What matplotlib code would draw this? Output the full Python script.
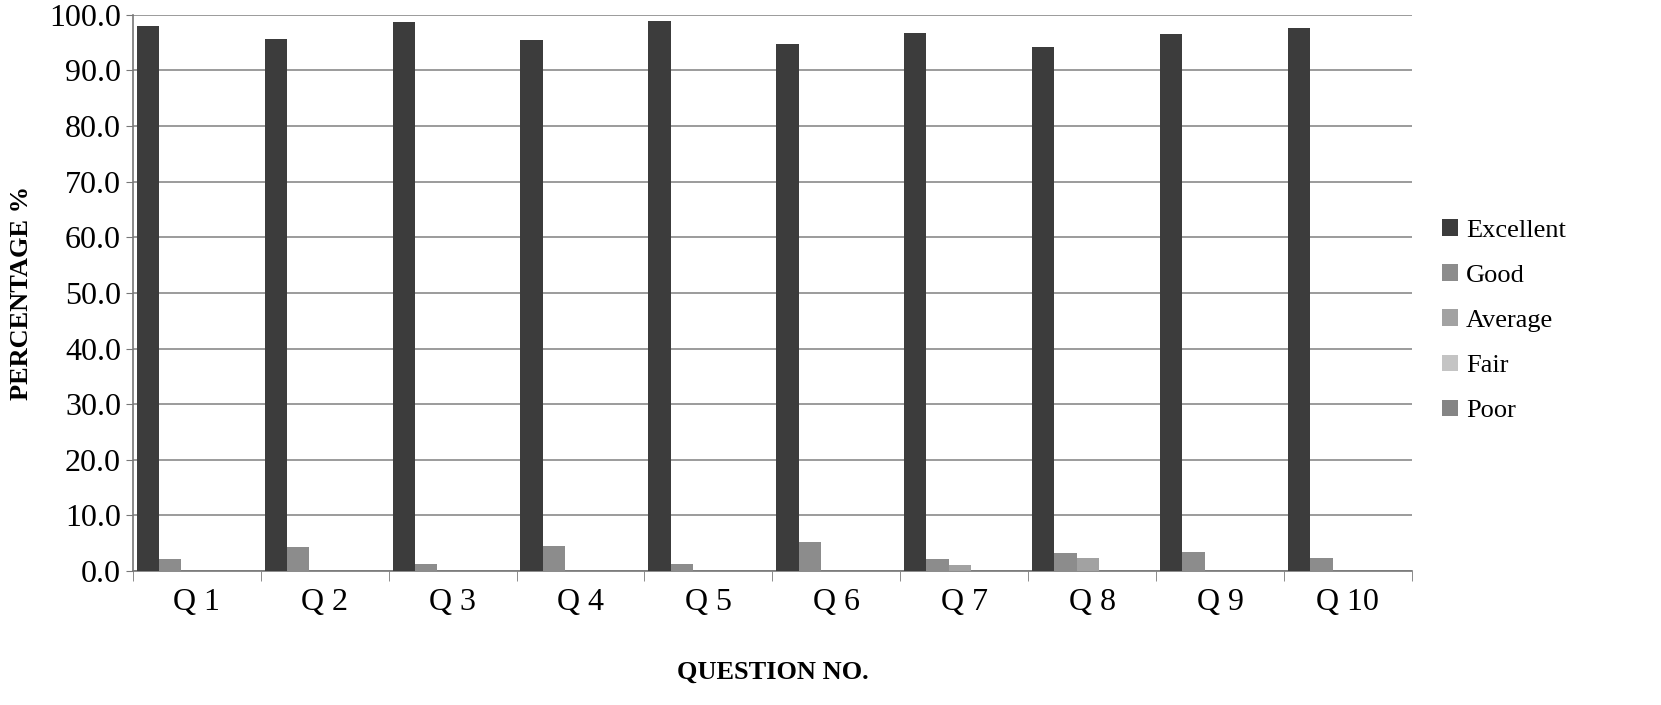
import numpy as np
import matplotlib
matplotlib.use('Agg')
import matplotlib.pyplot as plt

plt.rcParams['font.family'] = ['Liberation Serif', 'DejaVu Serif']

questions = ['Q 1', 'Q 2', 'Q 3', 'Q 4', 'Q 5', 'Q 6', 'Q 7', 'Q 8', 'Q 9', 'Q 10']
excellent = [97.9, 95.7, 98.7, 95.5, 98.8, 94.7, 96.8, 94.3, 96.6, 97.7]
good = [2.1, 4.3, 1.3, 4.5, 1.2, 5.3, 2.1, 3.3, 3.4, 2.3]
average = [0.0, 0.0, 0.0, 0.0, 0.0, 0.0, 1.1, 2.4, 0.0, 0.0]
fair = [0.0] * 10
poor = [0.0] * 10

series = [('Excellent', excellent, '#3c3c3c'),
          ('Good', good, '#8c8c8c'),
          ('Average', average, '#a2a2a2'),
          ('Fair', fair, '#c4c4c4'),
          ('Poor', poor, '#858585')]

fig = plt.figure(figsize=(16.61, 7.05), dpi=100)
ax = fig.add_axes([0.08, 0.19, 0.77, 0.789])

x = np.arange(len(questions))
w = 0.175
start = -0.5 + 0.03
for i, (name, vals, col) in enumerate(series):
    ax.bar(x + start + w * (i + 0.5), vals, width=w, color=col, label=name, zorder=3)

ax.set_xlim(-0.5, len(questions) - 0.5)
ax.set_ylim(0, 100)
ax.set_yticks(np.arange(0, 101, 10))
ax.set_yticklabels(['%.1f' % v for v in np.arange(0, 101, 10)], fontsize=23)
ax.set_xticks(x)
ax.set_xticklabels(questions, fontsize=23)
ax.set_xticks(np.arange(-0.5, len(questions), 1), minor=True)
ax.tick_params(axis='x', which='major', length=0, pad=12)
ax.tick_params(axis='x', which='minor', length=7, color='#777777')
ax.tick_params(axis='y', length=5, color='#777777')

ax.grid(axis='y', color='#8a8a8a', linewidth=1.2, zorder=0)
for s in ['top', 'right']:
    ax.spines[s].set_visible(False)
for s in ['left', 'bottom']:
    ax.spines[s].set_color('#777777')
    ax.spines[s].set_linewidth(1.2)

ax.set_xlabel('QUESTION NO.', fontsize=19, fontweight='bold', labelpad=32)
ax.set_ylabel('PERCENTAGE %', fontsize=19, fontweight='bold', labelpad=12)

ax.legend(loc='center left', bbox_to_anchor=(1.005, 0.45), frameon=False,
          fontsize=19, handlelength=0.6, handleheight=0.6, handletextpad=0.3,
          labelspacing=0.85)

fig.savefig('out.png', dpi=100)
